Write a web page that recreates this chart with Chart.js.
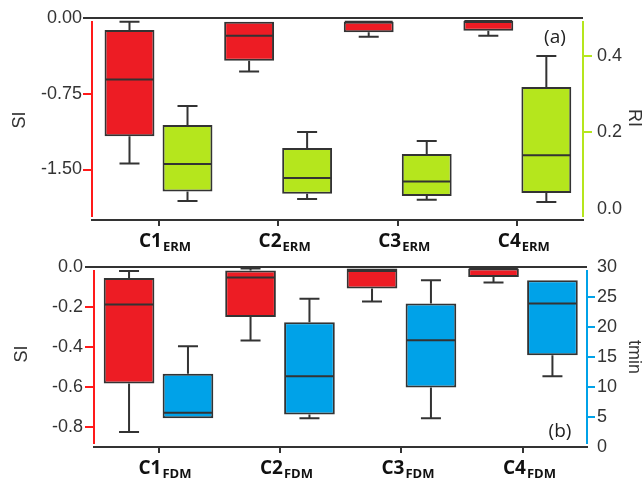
<!DOCTYPE html>
<html><head><meta charset="utf-8">
<script src="https://cdn.jsdelivr.net/npm/chart.js@4.4.1/dist/chart.umd.min.js"></script>
<style>
html,body{margin:0;padding:0;background:#fff;}
#wrap{position:relative;width:644px;height:485px;overflow:hidden;}
canvas{position:absolute;left:0;top:0;}
</style></head><body>
<div id="wrap"><canvas id="ca" width="644" height="485"></canvas><canvas id="cb" width="644" height="485"></canvas></div>
<script>
// ---- data ----
const categories = ['C1', 'C2', 'C3', 'C4'];
const subA = 'ERM';
const subB = 'FDM';

// Panel (a): SI (ERM), left axis
const siA_min = [-1.44, -0.53, -0.185, -0.175];
const siA_q1  = [-1.17, -0.424, -0.141, -0.125];
const siA_med = [-0.61, -0.175, -0.036, -0.03];
const siA_q3  = [-0.118, -0.036, -0.036, -0.03];
const siA_max = [-0.036, -0.036, -0.036, -0.03];
// Panel (a): RI, right axis
const riA_min = [0.020, 0.025, 0.023, 0.017];
const riA_q1  = [0.045, 0.039, 0.033, 0.041];
const riA_med = [0.117, 0.080, 0.071, 0.140];
const riA_q3  = [0.219, 0.159, 0.143, 0.319];
const riA_max = [0.269, 0.201, 0.177, 0.400];
const siA_ticks = [0, -0.75, -1.5];
const riA_ticks = [0, 0.2, 0.4];

// Panel (b): SI (FDM), left axis
const siB_min = [-0.825, -0.367, -0.172, -0.078];
const siB_q1  = [-0.583, -0.25, -0.108, -0.05];
const siB_med = [-0.188, -0.053, -0.02, -0.007];
const siB_q3  = [-0.055, -0.017, -0.007, -0.007];
const siB_max = [-0.02, -0.008, -0.007, -0.007];
// Panel (b): tmin, right axis
const tB_min = [4.8, 4.8, 4.8, 11.8];
const tB_q1  = [4.8, 5.4, 9.9, 15.3];
const tB_med = [5.7, 11.8, 17.8, 23.9];
const tB_q3  = [12.2, 20.8, 23.9, 27.8];
const tB_max = [16.8, 24.7, 27.8, 27.8];
const siB_ticks = [0, -0.2, -0.4, -0.6, -0.8];
const tB_ticks = [0, 5, 10, 15, 20, 25, 30];

const RED = '#ED1C24', GREEN = '#B5E61D', BLUE = '#00A2E8';
const DARK = '#333333';
const AXRED = '#FF1A1A';

const boxPlugin = {
  id: 'boxDeco',
  afterDatasetsDraw(chart) {
    const ctx = chart.ctx;
    chart.data.datasets.forEach((ds, di) => {
      const meta = chart.getDatasetMeta(di);
      const sc = chart.scales[ds.yAxisID];
      const st = ds.stats;
      meta.data.forEach((el, i) => {
        const x = el.x, w = el.width;
        const p = v => sc.getPixelForValue(v);
        ctx.save();
        ctx.strokeStyle = DARK; ctx.lineWidth = 2;
        ctx.beginPath();
        if (st.max[i] > st.q3[i]) {
          ctx.moveTo(x, p(st.q3[i])); ctx.lineTo(x, p(st.max[i]));
          ctx.moveTo(x - 10, p(st.max[i])); ctx.lineTo(x + 10, p(st.max[i]));
        }
        if (st.min[i] < st.q1[i]) {
          ctx.moveTo(x, p(st.q1[i])); ctx.lineTo(x, p(st.min[i]));
          ctx.moveTo(x - 10, p(st.min[i])); ctx.lineTo(x + 10, p(st.min[i]));
        }
        ctx.moveTo(x - w / 2 + 1, p(st.med[i])); ctx.lineTo(x + w / 2 - 1, p(st.med[i]));
        ctx.stroke();
        ctx.restore();
      });
    });
  },
  afterDraw(chart, args, o) {
    const ctx = chart.ctx, a = chart.chartArea;
    ctx.save();
    // top line
    ctx.strokeStyle = DARK; ctx.lineWidth = 2;
    ctx.beginPath(); ctx.moveTo(a.left - 9, a.top); ctx.lineTo(a.right, a.top); ctx.stroke();
    // left axis line
    ctx.strokeStyle = AXRED;
    ctx.beginPath(); ctx.moveTo(a.left, a.top + 3); ctx.lineTo(a.left, a.bottom - 3); ctx.stroke();
    // right axis line
    ctx.strokeStyle = o.rightColor;
    ctx.beginPath(); ctx.moveTo(a.right, a.top + 3); ctx.lineTo(a.right, a.bottom - 3); ctx.stroke();
    // category labels
    const xs = chart.scales.x;
    ctx.fillStyle = '#111';
    ctx.textBaseline = 'alphabetic';
    categories.forEach((c, i) => {
      const cx = xs.getPixelForValue(i) + 6;
      ctx.font = 'bold 19px "Open Sans"';
      const w1 = ctx.measureText(c).width;
      ctx.font = 'bold 13px "Open Sans"';
      const w2 = ctx.measureText(o.sub).width;
      const x0 = cx - (w1 + w2) / 2;
      const base = a.bottom + 27;
      ctx.font = 'bold 19px "Open Sans"';
      ctx.textAlign = 'left';
      ctx.fillText(c, x0, base);
      ctx.font = 'bold 13px "Open Sans"';
      ctx.fillText(o.sub, x0 + w1 + 1, base + 4);
    });
    // titles
    ctx.fillStyle = DARK;
    ctx.textAlign = 'center'; ctx.textBaseline = 'middle';
    ctx.font = '18px "Liberation Sans"';
    ctx.save(); ctx.translate(o.leftTitlePos[0], o.leftTitlePos[1]); ctx.rotate(-Math.PI / 2);
    ctx.fillText(o.leftTitle, 0, 0); ctx.restore();
    ctx.save(); ctx.translate(o.rightTitlePos[0], o.rightTitlePos[1]); ctx.rotate(Math.PI / 2);
    ctx.fillText(o.rightTitle, 0, 0); ctx.restore();
    ctx.font = '19px "Open Sans"';
    ctx.fillStyle = '#222';
    ctx.fillText(o.panel, o.panelPos[0], o.panelPos[1]);
    ctx.restore();
  }
};

function boxData(q1, q3) { return categories.map((c, i) => ({ x: i, y: [q1[i], q3[i]] })); }

function makeChart(id, cfg) {
  const tickFont = { family: 'Liberation Sans', size: 18 };
  return new Chart(document.getElementById(id), {
    type: 'bar',
    data: {
      datasets: [
        { data: boxData(cfg.l.q1, cfg.l.q3), stats: cfg.l, yAxisID: 'y', backgroundColor: RED,
          borderColor: DARK, borderWidth: 2, borderSkipped: false, categoryPercentage: 0.97, barPercentage: 0.86 },
        { data: boxData(cfg.r.q1, cfg.r.q3), stats: cfg.r, yAxisID: 'y2', backgroundColor: cfg.rightFill,
          borderColor: DARK, borderWidth: 2, borderSkipped: false, categoryPercentage: 0.97, barPercentage: 0.86 }
      ]
    },
    options: {
      responsive: false, animation: false, devicePixelRatio: 1,
      layout: { padding: { top: cfg.top, bottom: cfg.bottom, left: 0, right: 0 } },
      plugins: {
        legend: { display: false }, tooltip: { enabled: false },
        boxDeco: { sub: cfg.sub, rightColor: cfg.rightAxis, leftTitle: 'SI', rightTitle: cfg.rightTitle,
          leftTitlePos: cfg.leftTitlePos, rightTitlePos: cfg.rightTitlePos, panel: cfg.panel, panelPos: cfg.panelPos }
      },
      scales: {
        x: {
          type: 'linear', offset: false, min: cfg.xmin, max: cfg.xmax,
          afterBuildTicks: s => { s.ticks = categories.map((c, i) => ({ value: i })); },
          afterFit: s => { s.height = 20; s.paddingLeft = 0; s.paddingRight = 0; },
          ticks: { display: false },
          grid: { offset: false, drawOnChartArea: false, drawTicks: true, tickLength: 6, color: DARK, lineWidth: 2 },
          border: { display: true, color: DARK, width: 2 }
        },
        y: {
          position: 'left', min: cfg.lmin, max: 0,
          afterBuildTicks: s => { s.ticks = cfg.lticks.map(v => ({ value: v })); },
          afterFit: s => { s.width = cfg.leftW; s.paddingTop = 0; s.paddingBottom = 0; },
          ticks: { font: tickFont, color: DARK, padding: cfg.lpad, callback: v => v.toFixed(cfg.ldec) },
          grid: { drawOnChartArea: false, drawTicks: true, tickLength: 9, lineWidth: 2,
            color: c => (c.tick && c.tick.value === 0) ? DARK : AXRED },
          border: { display: false }
        },
        y2: {
          position: 'right', min: cfg.rmin, max: cfg.rmax,
          afterBuildTicks: s => { s.ticks = cfg.rticks.map(v => ({ value: v })); },
          afterFit: s => { s.width = cfg.rightW; s.paddingTop = 0; s.paddingBottom = 0; },
          ticks: { font: tickFont, color: DARK, padding: cfg.rpad, callback: v => v.toFixed(cfg.rdec) },
          grid: { drawOnChartArea: false, drawTicks: true, tickLength: cfg.rtl, lineWidth: 2,
            color: c => (c.tick && (c.tick.value === cfg.rmax || c.tick.value === 0)) ? 'rgba(0,0,0,0)' : cfg.rightAxis },
          border: { display: false }
        }
      }
    },
    plugins: [boxPlugin]
  });
}

makeChart('ca', {
  l: { min: siA_min, q1: siA_q1, med: siA_med, q3: siA_q3, max: siA_max },
  r: { min: riA_min, q1: riA_q1, med: riA_med, q3: riA_q3, max: riA_max },
  rightFill: GREEN, rightAxis: GREEN, sub: subA, rightTitle: 'RI', panel: '(a)',
  top: 18, bottom: 245, leftW: 92, rightW: 61,
  xmin: -0.556, xmax: 3.549,
  lmin: -2.0, lticks: siA_ticks, ldec: 2, lpad: 1,
  rmin: -0.03, rmax: 0.5, rticks: riA_ticks, rdec: 1, rpad: 5, rtl: 9,
  leftTitlePos: [20, 120], rightTitlePos: [634, 118], panelPos: [555, 38]
});
makeChart('cb', {
  l: { min: siB_min, q1: siB_q1, med: siB_med, q3: siB_q3, max: siB_max },
  r: { min: tB_min, q1: tB_q1, med: tB_med, q3: tB_q3, max: tB_max },
  rightFill: BLUE, rightAxis: BLUE, sub: subB, rightTitle: 'tmin', panel: '(b)',
  top: 267, bottom: 18, leftW: 94, rightW: 57,
  xmin: -0.531, xmax: 3.527,
  lmin: -0.9, lticks: siB_ticks, ldec: 1, lpad: 2,
  rmin: 0, rmax: 30, rticks: tB_ticks, rdec: 0, rpad: 2, rtl: 8,
  leftTitlePos: [22, 354], rightTitlePos: [634, 357], panelPos: [560, 432]
});
</script>
</body></html>
